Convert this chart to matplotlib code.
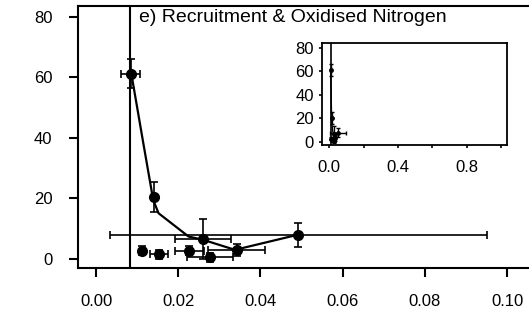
import matplotlib
matplotlib.use("Agg")
import matplotlib.pyplot as plt

plt.rcParams['font.family'] = ['Liberation Sans', 'DejaVu Sans']

# nitrogen (x) vs recruitment (y), with error bars
no3 = [0.0084, 0.0140, 0.0261, 0.0342, 0.0492, 0.0111, 0.0152, 0.0227, 0.0277]
recruit = [61.2, 20.4, 6.5, 3.0, 7.8, 2.7, 1.6, 2.7, 0.6]
no3_err = [0.0024, 0.0004, 0.0068, 0.0069, 0.0458, 0.0005, 0.0022, 0.0035, 0.0055]
recruit_err = [4.8, 5.0, 6.6, 2.0, 4.0, 1.5, 1.5, 1.5, 1.5]

# fitted curve
fit_x = [0.0087, 0.0115, 0.0139, 0.0152, 0.0225, 0.0261, 0.0338, 0.0488]
fit_y = [60.3, 38.2, 19.5, 15.1, 7.4, 6.3, 3.0, 7.9]

vline_x = 0.0083

main_xticks = [0.00, 0.02, 0.04, 0.06, 0.08, 0.10]
main_yticks = [0, 20, 40, 60, 80]
inset_xticks = [0.0, 0.2, 0.4, 0.6, 0.8, 1.0]
inset_xlabels = ['0.0', '', '0.4', '', '0.8', '']

fig = plt.figure(figsize=(5.29, 3.22), dpi=100)
ax = fig.add_axes([0.1474, 0.1677, 0.889, 0.8137])

ax.axvline(vline_x, color='black', lw=1.5)
ax.plot(fit_x, fit_y, color='black', lw=1.6)
ax.errorbar(no3, recruit, xerr=no3_err, yerr=recruit_err, fmt='o', color='black',
            ms=7, elinewidth=1.2, capsize=3, capthick=1.2)
ax.set_xlim(-0.0044, 0.11)
ax.set_ylim(-3, 83.6)
ax.set_xticks(main_xticks)
ax.set_xticklabels(['%.2f' % v for v in main_xticks])
ax.set_yticks(main_yticks)
ax.tick_params(direction='out', length=6.5, width=1.5, labelsize=12, pad=12)
for s in ['left', 'bottom', 'top']:
    ax.spines[s].set_linewidth(1.5)
ax.spines['right'].set_visible(False)
ax.text(0.0105, 79.7, 'e) Recruitment & Oxidised Nitrogen', fontsize=14, va='center', ha='left')

ins = fig.add_axes([0.608, 0.5497, 0.3497, 0.3177])
ins.axvline(vline_x, color='black', lw=1.2)
ins.plot(fit_x, fit_y, color='black', lw=1.0)
ins.errorbar(no3, recruit, xerr=no3_err, yerr=recruit_err, fmt='o', color='black',
             ms=2.5, elinewidth=1.0, capsize=1.5, capthick=1.0)
ins.set_xlim(-0.044, 1.031)
ins.set_ylim(-2.8, 84.5)
ins.set_xticks(inset_xticks)
ins.set_xticklabels(inset_xlabels)
ins.set_yticks(main_yticks)
ins.tick_params(direction='out', length=2.5, width=1.2, labelsize=12, pad=3)
ins.tick_params(axis='x', pad=8)
for s in ins.spines.values():
    s.set_linewidth(1.3)

fig.savefig('out.png', dpi=100)
